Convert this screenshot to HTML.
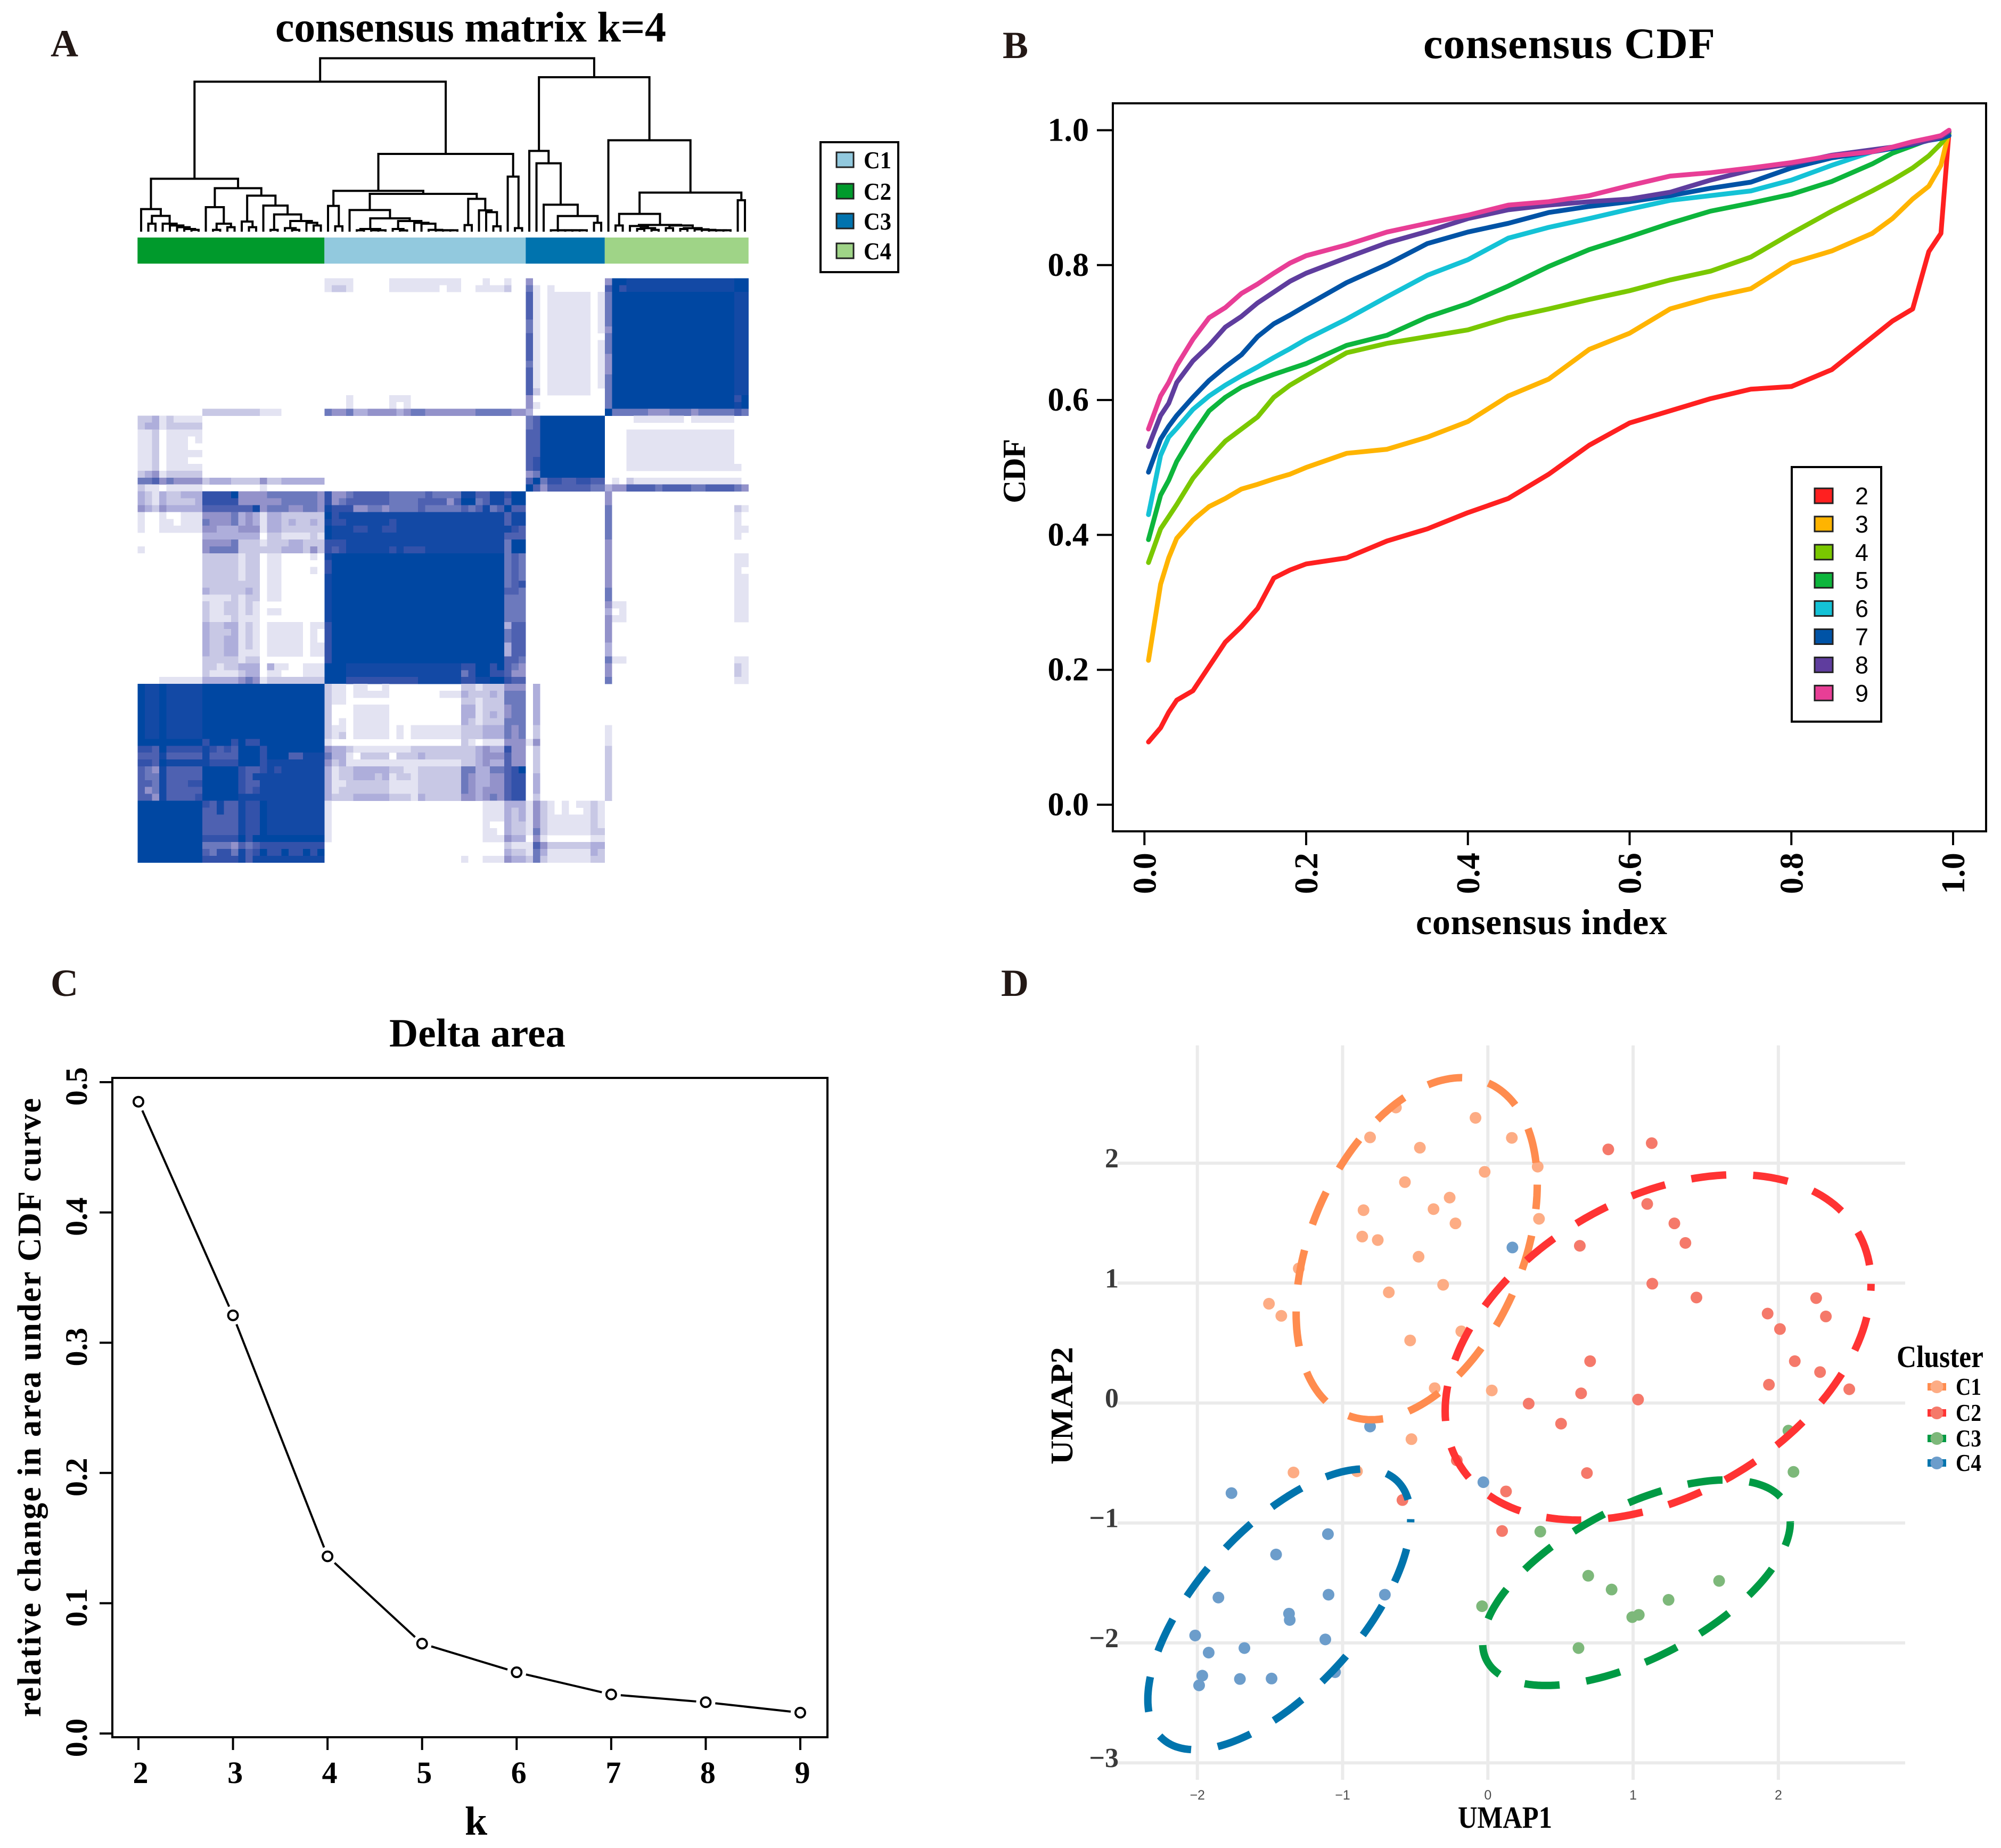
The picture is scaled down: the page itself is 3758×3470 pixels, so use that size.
<!DOCTYPE html>
<html lang="en">
<head>
<meta charset="utf-8">
<title>Consensus clustering figure</title>
<style>
html,body{margin:0;padding:0;background:#fff;}
svg{display:block;}
text{font-family:"Liberation Serif",serif;font-weight:bold;fill:#000;}
.sans{font-family:"Liberation Sans",sans-serif;font-weight:normal;}
.letter{font-size:72px;fill:#231815;}
</style>
</head>
<body>
<svg id="fig" xmlns="http://www.w3.org/2000/svg" width="3758" height="3470" viewBox="0 0 3758 3470">
  <rect x="0" y="0" width="3758" height="3470" fill="#fff"/>

  <text class="letter" x="95" y="106">A</text>
  <text class="letter" x="1883" y="109">B</text>
  <text class="letter" x="95" y="1870">C</text>
  <text class="letter" x="1880" y="1870">D</text>

  <g id="panelA">
    <text x="517" y="78" font-size="80" textLength="734">consensus matrix k=4</text>
    <g id="dendrogram" fill="none" stroke="#000" stroke-width="4"></g>
    <g id="annotation"></g>
    <g id="heatmap" shape-rendering="crispEdges"></g>
    <g id="legendA"></g>
  </g>

  <g id="panelB">
    <text x="2673" y="109" font-size="82" textLength="548">consensus CDF</text>
    <g id="cdfAxes"></g>
    <g id="cdfLines" fill="none" stroke-width="9" stroke-linejoin="round" stroke-linecap="round"></g>
    <rect x="2090" y="194" width="1640" height="1367" fill="none" stroke="#000" stroke-width="4"/>
    <text x="2659" y="1754" font-size="68" textLength="472">consensus index</text>
    <text transform="translate(1925 945) rotate(-90)" font-size="60" textLength="121">CDF</text>
    <g id="legendB"></g>
  </g>

  <g id="panelC">
    <text x="731" y="1965" font-size="75" textLength="331">Delta area</text>
    <g id="deltaAxes"></g>
    <g id="deltaMarks"></g>
    <rect x="211" y="2024" width="1343" height="1238" fill="none" stroke="#000" stroke-width="4"/>
    <text x="894" y="3445" font-size="76" text-anchor="middle">k</text>
    <text transform="translate(76 3224) rotate(-90)" font-size="62" textLength="1162">relative change in area under CDF curve</text>
  </g>

  <g id="panelD">
    <g id="umapGrid"></g>
    <g id="umapPoints"></g>
    <g id="umapEllipses" fill="none" stroke-width="14"></g>
    <text x="2738" y="3432" font-size="58" textLength="177" lengthAdjust="spacingAndGlyphs">UMAP1</text>
    <text transform="translate(2014 2750) rotate(-90)" font-size="59" textLength="221" lengthAdjust="spacingAndGlyphs">UMAP2</text>
    <text x="3562" y="2567" font-size="58" textLength="163" lengthAdjust="spacingAndGlyphs">Cluster</text>
    <g id="legendD"></g>
  </g>
</svg>

<script>
/* ---------- Panel A data ---------- */
const clusterNames = ["C1", "C2", "C3", "C4"];
const clusterColors = ["#92c9de", "#009a2c", "#0073ae", "#9fd487"];
const columnOrder = ["C2", "C1", "C3", "C4"];
const columnCounts = [26, 28, 11, 20];
const heatLevels = ["#fdfdfd", "#e3e3f2", "#c8c8e5", "#aeaedb", "#9392ca", "#6c79bd", "#4e61b1", "#3352aa", "#1349a5", "#0047a2"];
/* each row: level or level*count, left to right */
const heatRows = [
"0*26 1*4 0*5 1*10 0*3 1 0*2 1 0*2 4 0*10 4 9*2 8*15 9*2",
"0*26 1 2 2 1 0*5 1*7 0 1*2 0*2 1*4 2 0*2 5 1 0 1 0*7 6 9 7 8*15 9*2",
"0*54 6 1 0 1*6 0 1 5 9*17 8*2",
"0*54 6 1 0 1*6 0 1 5 9*17 8*2",
"0*54 6 1 0 1*6 0 1 5 9*17 8*2",
"0*54 6 1 0 1*6 0 1 5 9*17 8*2",
"0*54 5 1 0 1*6 0 1 5 9*17 8*2",
"0*54 5 1 0 1*6 0 1 4 9*17 8*2",
"0*54 6 1 0 1*6 0 0 5 9*17 8*2",
"0*54 6 1 0 1*6 0 1 5 9*17 8*2",
"0*54 6 1 0 1*6 0 1 5 9*17 8*2",
"0*54 6 1 0 1*6 0 1 4 9*17 8*2",
"0*54 5 1 0 1*6 0 1 4 9*17 8*2",
"0*54 6 1 0 1*6 0 1 4 9*17 8*2",
"0*54 6 1 0 1*6 0 1 5 9*17 8*2",
"0*54 6 1 0 1*6 0 1 5 9*17 8*2",
"0*54 6 2 0 1*6 0 0 5 9*17 8*2",
"0*29 1 0*5 1*3 0*16 4 0*10 5 9*17 7 9",
"0*29 1 0*5 1 0 1 0*16 4 1 0*9 5 9*17 8 9",
"0*9 2*8 1*3 0*6 5 4 4 5 3 3 4*4 3 4 5 5 4*7 5*5 4*2 3 0*10 9 5*5 4*3 5*3 4 5*5 6 5",
"2*2 3 1 2 1*4 0*45 5 6 9*9 0*4 1*7 0 1*6 0*2",
"2 3 3 1 2*5 0*45 5 6 9*9 0*20",
"1 1 2 0 1*5 0*45 6 6 9*9 0*3 1*15 0*2",
"1 1 2 0 1*3 0 1 0*45 6 6 9*9 0*3 1*15 0*2",
"1 1 2 0 1*3 0 0 0*45 6 6 9*9 0*3 1*15 0*2",
"1 1 2 0 1*5 0*45 6 6 9*9 0*3 1*15 0*2",
"1 1 2 0 1*3 0 0 0*45 6 7 9*9 0*3 1*15 0*2",
"1 1 2 0 1*5 0*45 6 7 9*9 0*3 1*16 0",
"2 3 4 1 2*5 0*45 4 5 9*9 0*20",
"5 5 6 4 5 4*4 2 3*3 2*4 4 2*2 3*6 0*28 6 9 5 7 7 6 6 7 7 6 6 0 1 0 2 1*15 0",
"2 1 1 0 1*5 0*8 1 0*36 9 6 4 6*6 5 5 3 4 4 6*4 5 6*4 5 5 6*4 5 4",
"3 2 1 3 2 2 3*3 7*4 9 4*4 5*7 4 7 4 4 5 6*5 5*5 6 5*4 8 8 6 6 8 8 7 9 9 0*11 4 0*19",
"3 2 1 3 2*4 3 7*5 4*6 5*5 4 7 4 5 6*6 5*4 6*3 6 4 6 9 9 5 6 8 8 6 9 9 0*11 4 0*19",
"4 3 2 4 3*5 6*7 8 4 5*3 4*2 5*2 4 8 7 7 7 4 4 5 5 4 5*4 6 5*5 6 5 6 8 5 6 9 6 6 0*11 5 0*17 2 1",
"1 0 0 1 0 0 1*3 4*4 5 3 4 3 1 3 3 2*6 9 7 8*23 6 8 8 0*11 5 0*17 1 0",
"1 0 0 1 1 0 1*3 5 4*3 5 3 4 3 1 3 3 2 3 2 2 3 2 8 7 7 8*6 7 8*15 6 8 8 0*11 5 0*17 1 0",
"1 0 0 1*6 4 4 3*3 4*3 1 3 3 2*6 9 8*3 7 7 8 8 7 7 8*16 7 6 0*11 5 0*17 1 1",
"0*9 3*8 0 2 2 1*4 2 1 9 8*24 6*3 0*11 5 0*17 1 0",
"0*9 4*4 5 2*3 1 2*3 3 3 2*3 7*3 8*22 5 9 9 0*11 4 0*19",
"1 0*8 4 5*4 2*6 3*3 2 4 2 7 6 7 8*6 7 8 7*3 8*11 5 9 9 0*11 4 0*19",
"0*9 2*5 1 2 2 0 1 1 0*4 1 0 8 9*24 5 6 5 0*11 4 0*17 1 1",
"0*9 2*5 1 2 2 0 1 1 0*6 7 9*24 5 6 5 0*11 4 0*17 1 1",
"0*9 2*5 1 2 2 0 1 1 0*4 1 0 7 9*24 5 6 5 0*11 4 0*17 1 0",
"0*9 2*5 1 2 2 0 1 1 0*6 8 9*24 5 6 5 0*11 4 0*17 1 1",
"0*9 2*5 2 2 2 0 1 1 0*6 8 9*24 5 6 7 0*11 4 0*17 1 1",
"0*9 3 2*5 3 2 0 1 1 0*6 8 9*24 6 6 5 0*11 5 0*17 1 1",
"0*9 1*4 2 1 2 2 0 1 1 0*6 8 9*24 5 5 5 0*11 5 0*17 1 1",
"0*9 2 1 1 2 2 1 2 1 0*9 8 9*24 5 5 5 0*11 4 1 1 0*15 1 1",
"0*9 2 1 1 2 2 1 2 1 0 1 1 0*6 8 9*24 5 5 5 0*11 3 0 1 0*15 1 1",
"0*9 2 1*3 2 1*3 0*9 8 9*24 5 5 5 0*11 4 1 1 0*15 1 1",
"0*9 3 2 2 3 3 1 2 1 0 1*5 0 1 1 7 9*24 3 6 6 0*11 4 0*19",
"0*9 3 2*3 3 1 2 1 0 1*5 0 1 0 7 9*24 5 6 6 0*11 4 0*19",
"0*9 3 2 2 3 3 1 2 1 0 1*5 0 1 0 7 9*24 5 6 6 0*11 4 0*19",
"0*9 3 2 2 3 3 1 2 1 0 1*5 0 1 1 7 9*24 3 6 6 0*11 3 0*19",
"0*9 3 2 2 3 3 1 1 1 0 1*5 0 1 1 7 9*24 3 6 6 0*11 3 0*19",
"0*9 2*5 1 2 2 0*9 7 9*24 6 6 5 0*11 5 1 1 0*15 1 1",
"0*9 2 2 1 2 2 3*3 0 3 1 1 0 0 1*3 9*3 8*16 7 7 9 9 7 9 6 5 4 0*11 4 0*17 2 1",
"0*9 2 1*4 2 3 3 0 1 1 0*3 1*3 9*3 8*16 5 7 9 9 7 7 6 4 4 0*11 4 0*17 2 1",
"0*3 1*6 3*5 4 5 4 1 2*8 9*3 7*10 8*6 7 7 8 8 9 9 7 6 6 0*11 5 0*17 1 1",
"9 8 8 9 8*5 9*17 2 1 1 0 1 1 0 0 1 0*10 2 2 1 2*3 4*3 0 3 0*29",
"9 8 8 9 8*5 9*17 2 1 1 0 1*5 0*7 1*3 3 2 2 2 3 2 5*3 0 3 0*29",
"9 8 8 9 8*5 9*17 2 1 1 0*16 2 2 1 2*3 5*3 0 3 0*29",
"9 8 8 9 8*5 9*17 2 0*3 1*5 0*10 3 3 1 2*3 4 5 5 0 3 0*29",
"9 8 8 9 8*5 9*17 2 0*3 1*5 0*10 3 3 1 2 3 2 4 5 5 0 3 0*29",
"9 8 8 9 8*5 9*17 2 0 1 0 1*5 0*10 3 2 1 2*3 5*3 0 3 0*29",
"9 8 8 9 8*5 9*17 2 1 1 0 1*5 0 1 0 1*7 2*3 3*3 5 4 5 0 2 0*9 1 0*19",
"9 8 8 9 8*5 9*17 2 1 2 0 1*5 0 1 0 1*7 2*3 3*3 5 4 5 0 2 0*9 1 0*19",
"9*9 7 9*3 7 9 7 7 9*9 1 0*18 2 1 0 1*3 4*3 1 4 0*9 1 0*19",
"7 7 6 9 7*5 8 7 6 7 6 9*3 7 9*8 4 3 3 2 1*8 2*9 3 4 3 3 7 4 4 0 2 0*9 2 0*19",
"6 6 6 8 6*5 8 6*4 9*3 7 9*3 6 6 8*3 5 3 3 1 0 2*4 0 2*3 3 2*7 3 4*3 6 4 4 0 2 0*9 2 0*19",
"7 7 6 9 8*5 8 7*4 9*3 7 8*8 4 2 3 1*16 2 2 3 4 3 3 6 4 4 0 2 0*9 2 0*19",
"6 5 4 8 6*5 9*5 7 6 6 7 8 7 8*6 3 1 2 2 3*5 2 2 1 1 2*6 5 5 3 3 5 5 6 7 9 0 2 0*9 2 0*19",
"6 5 5 8 6*5 9*5 7 6 8 8 8*8 3 1 2 2 3*3 2 3 1 2 2 1 2*6 5 4 3 3 4 4 6 7 7 0 3 0*9 2 0*19",
"6 6 5 8 6*3 7 7 9*5 7 6 6 8*9 3 1 1 2*6 1*4 2*6 5 4 3 3 4 4 6 7 7 0 3 0*9 2 0*19",
"6 4 5 8 6*5 9*5 7 6 7 8*9 3 1 2*7 1*4 2*6 5 4 3 4*3 6 7 7 0 3 0*9 2 0*19",
"6 6 4 8 6*4 7 9*5 8 8 8 8*9 3 2 2 2 3*5 2*3 1 3 2*5 4 4 3 4 5 4 6 7 7 0 2 0*9 2 0*19",
"9*9 7 6 8 6 6 8 7 7 9 8*8 1 0*21 1*3 3*3 1 4 2 1 0 1 0 1 1 2 1 0*20",
"9*9 6 6 8 6 6 8 7 7 9 8*8 1 0*21 1*3 3 2 3 1 4 2 1 0 1 0 0 1 2 1 0*20",
"9*9 6*5 8 7 7 9 8*8 1 0*21 1*3 3 2 3 1 4 2 1*6 2 1 0*20",
"9*9 6*5 8 7 7 9 8*8 1 0*21 1 0 0 3 2 2 1 4 2 1*6 2 1 0*20",
"9*9 6*5 8 7 7 9 8*8 1 0*21 1 1 0 3 2 2 1 5 2 1*6 2 2 0*20",
"9*9 7*5 9 7 9 9 9*8 1 0*21 1*3 4 3 3 0 4 1 0*6 1 1 0*20",
"9*9 5*4 4 6 5 6 7*9 0*25 2 1 1 1 6 4 2*6 3 3 0*20",
"9*9 6 5 7 7 5 8 6 7 9 7 7 9 7 7 9 7 9 0*25 3 2 2 1 5 3 1*6 3 2 0*20",
"9*9 7*5 8 6 8 8 8*8 0*19 1 0*2 1*3 4 3 3 2 5 2 1*6 2 2 0*20"
];
/* dendrogram: [merge height, left child, right child]; 0 is a leaf */
const dendrogramTree = [977,
  [845,
    [298,
      [127, 0, [89, [45, 0, 0], [45, 0, [35, 0, [25, 0, [15, 0, [10, 0, 0]]]]]]],
      [245,
        [138, 0, [45, [10, 0, 0], [25, 0, 0]]],
        [203,
          [57, 0, [25, 0, 0]],
          [147, 0, [97, [10, 0, 0], [60, [20, 0, [10, 0, 0]], [50, 0, [35, 0, 0]]]]]]]],
    [438,
      [230,
        [145, 0, [30, 0, 0]],
        [213,
          [122, 0, [75,
            [15, [8, 0, 0], [8, [8, 0, 0], 0]],
            [60, [15, 0, [7, 0, 0]], [50, 0, [45, 0, [10, 0, [8, 0, [8, 0, [8, 0, 0]]]]]]]]],
          [185, [37, 0, 0], [120, 0, [110, 0, [30, 0, 0]]]]]],
      [310, 0, [20, 0, 0]]]],
  [870,
    [455, 0, [385, 0, [152, 0, [88, [8, 0, [8, 0, [8, 0, [8, 0, [8, 0, 0]]]]], [50, 0, 0]]]]],
    [515, 0, [220,
      [100,
        [35, 0, 0],
        [38,
          [32, 0, [20, [15, 0, 0], [10, 0, 0]]],
          [35, [20, 0, 0], [20, [15, 0, 0], [13, 0, [10, 0, [8, 0, [8, 0, [8, 0, 0]]]]]]]]],
      [177, 0, 0]]]]
];

/* ---------- Panel B data ---------- */
const cdfSeriesNames = ["2", "3", "4", "5", "6", "7", "8", "9"];
const cdfColors = ["#ff2020", "#ffb400", "#7ac800", "#0db53c", "#14c2d6", "#0053a6", "#5f3d9e", "#e83e96"];
const cdfTicks = ["0.0", "0.2", "0.4", "0.6", "0.8", "1.0"];
const consensusIndex = [0.005, 0.02, 0.03, 0.04, 0.06, 0.08, 0.1, 0.12, 0.14, 0.16, 0.18, 0.2, 0.25, 0.3, 0.35, 0.4, 0.45, 0.5, 0.55, 0.6, 0.65, 0.7, 0.75, 0.8, 0.85, 0.9, 0.925, 0.95, 0.97, 0.985, 0.995];
const cdfK2 = [0.093, 0.114, 0.137, 0.155, 0.169, 0.205, 0.241, 0.264, 0.291, 0.336, 0.348, 0.357, 0.366, 0.391, 0.409, 0.433, 0.454, 0.490, 0.533, 0.566, 0.584, 0.602, 0.616, 0.620, 0.645, 0.693, 0.717, 0.735, 0.820, 0.847, 0.998];
const cdfK3 = [0.214, 0.327, 0.366, 0.395, 0.422, 0.442, 0.454, 0.468, 0.475, 0.483, 0.490, 0.500, 0.521, 0.527, 0.545, 0.568, 0.606, 0.631, 0.675, 0.699, 0.735, 0.752, 0.765, 0.803, 0.821, 0.847, 0.869, 0.898, 0.917, 0.948, 0.998];
const cdfK4 = [0.359, 0.409, 0.427, 0.445, 0.484, 0.513, 0.539, 0.557, 0.575, 0.604, 0.622, 0.636, 0.670, 0.684, 0.694, 0.704, 0.722, 0.735, 0.749, 0.762, 0.778, 0.791, 0.812, 0.847, 0.880, 0.910, 0.926, 0.944, 0.962, 0.980, 0.995];
const cdfK5 = [0.393, 0.459, 0.481, 0.509, 0.549, 0.584, 0.604, 0.619, 0.629, 0.638, 0.646, 0.654, 0.681, 0.696, 0.723, 0.743, 0.769, 0.798, 0.823, 0.842, 0.862, 0.880, 0.892, 0.905, 0.924, 0.950, 0.966, 0.977, 0.986, 0.992, 0.998];
const cdfK6 = [0.430, 0.518, 0.545, 0.558, 0.586, 0.606, 0.622, 0.636, 0.649, 0.663, 0.676, 0.690, 0.720, 0.753, 0.785, 0.808, 0.840, 0.856, 0.869, 0.883, 0.896, 0.903, 0.910, 0.926, 0.948, 0.968, 0.973, 0.979, 0.985, 0.988, 0.992];
const cdfK7 = [0.493, 0.542, 0.561, 0.577, 0.604, 0.629, 0.649, 0.667, 0.694, 0.713, 0.726, 0.740, 0.774, 0.801, 0.832, 0.849, 0.862, 0.878, 0.887, 0.894, 0.903, 0.914, 0.923, 0.944, 0.959, 0.968, 0.973, 0.979, 0.985, 0.988, 0.992];
const cdfK8 = [0.531, 0.577, 0.595, 0.626, 0.658, 0.681, 0.708, 0.724, 0.744, 0.760, 0.776, 0.788, 0.811, 0.833, 0.850, 0.869, 0.882, 0.889, 0.894, 0.898, 0.908, 0.926, 0.941, 0.950, 0.963, 0.971, 0.975, 0.980, 0.985, 0.990, 0.998];
const cdfK9 = [0.557, 0.606, 0.626, 0.651, 0.690, 0.722, 0.737, 0.758, 0.772, 0.788, 0.803, 0.814, 0.830, 0.849, 0.862, 0.874, 0.889, 0.894, 0.903, 0.918, 0.932, 0.937, 0.944, 0.952, 0.962, 0.968, 0.975, 0.983, 0.988, 0.992, 1.0];

/* ---------- Panel C data ---------- */
const deltaK = [2, 3, 4, 5, 6, 7, 8, 9];
const deltaValues = [0.485, 0.321, 0.136, 0.069, 0.047, 0.030, 0.024, 0.016];
const deltaYTicks = ["0.0", "0.1", "0.2", "0.3", "0.4", "0.5"];

/* ---------- Panel D data ---------- */
const umapXTicks = [-2, -1, 0, 1, 2];
const umapYTicks = [-3, -2, -1, 0, 1, 2];
const umapClusters = ["C1", "C2", "C3", "C4"];
const umapLineColors = ["#ff8c4f", "#ff3333", "#009a44", "#0074ad"];
const umapPointColors = ["#fdac84", "#f5796a", "#7db87a", "#6c9dcb"];
const umap1C1 = [-0.633, -0.085, -0.811, 0.165, -0.468, 0.343, -0.022, -0.571, -0.263, -0.374, -0.856, -0.223, 0.352, -0.865, -0.758, -0.477, -1.302, -0.308, -0.682, -1.507, -1.422, -0.183, -0.535, -0.366, 0.027, -0.526, -1.338, -0.901];
const umap2C1 = [2.464, 2.378, 2.215, 2.211, 2.129, 1.971, 1.928, 1.842, 1.713, 1.617, 1.608, 1.498, 1.536, 1.388, 1.359, 1.220, 1.122, 0.986, 0.923, 0.828, 0.727, 0.598, 0.522, 0.124, 0.105, -0.301, -0.579, -0.569];
const umap1C2 = [1.128, 0.829, 1.097, 1.284, 1.360, 0.633, 1.132, 1.436, 2.260, 1.926, 2.327, 2.011, 0.704, 2.113, 2.287, 1.935, 2.488, 0.642, 1.034, 0.281, 0.504, -0.214, 0.682, 0.125, -0.588, 0.098];
const umap2C2 = [2.167, 2.115, 1.660, 1.498, 1.335, 1.311, 0.995, 0.880, 0.875, 0.746, 0.722, 0.617, 0.349, 0.349, 0.258, 0.153, 0.115, 0.081, 0.029, -0.005, -0.172, -0.478, -0.584, -0.737, -0.809, -1.067];
const umap1C3 = [2.069, 2.104, 0.361, 0.691, 0.852, 1.592, 1.244, 1.039, 0.994, -0.040, 0.624];
const umap2C3 = [-0.230, -0.574, -1.072, -1.440, -1.555, -1.483, -1.641, -1.766, -1.785, -1.694, -2.043];
const umap1C4 = [0.169, -0.811, -0.031, -1.765, -1.101, -1.458, -1.855, -1.097, -0.709, -1.369, -1.364, -2.015, -1.922, -1.119, -1.676, -1.966, -1.988, -1.707, -1.489, -1.052];
const umap2C4 = [1.297, -0.196, -0.660, -0.751, -1.093, -1.263, -1.622, -1.598, -1.598, -1.756, -1.809, -1.938, -2.081, -1.971, -2.043, -2.273, -2.354, -2.301, -2.297, -2.244];
const ellipseCenterX = [-0.49, 1.172, 1.023, -1.436];
const ellipseCenterY = [1.287, 0.464, -1.498, -1.72];
const ellipseSpreadX = [0.83, 1.466, 1.059, 0.905];
const ellipseSpreadY = [1.426, 1.44, 0.857, 1.17];
const ellipsePhaseDeg = [68, 68.4, 54, 50];
const ellipseDashOffset = [20, 53, 21, 60];

/* ---------- helpers ---------- */
const NS = "http://www.w3.org/2000/svg";
function make(tag, attrs, parent) {
  const e = document.createElementNS(NS, tag);
  for (const k in attrs) e.setAttribute(k, attrs[k]);
  parent.appendChild(e);
  return e;
}
const byId = function (id) { return document.getElementById(id); };

/* ---------- Panel A ---------- */
const heatLeft = 258.3, heatTop = 522.4, cellW = 13.5, cellH = 12.91;
const heatX = function (col) { return heatLeft + col * cellW; };
const heatY = function (row) { return heatTop + row * cellH; };

heatRows.forEach(function (rowText, r) {
  let col = 0;
  rowText.trim().split(/\s+/).forEach(function (token) {
    const parts = token.split("*");
    const level = Number(parts[0]);
    const count = parts.length > 1 ? Number(parts[1]) : 1;
    for (let i = 0; i < count; i++, col++) {
      if (level === 0) continue;
      const cell = make("rect", {x: heatX(col).toFixed(2), y: heatY(r).toFixed(2), width: cellW + 0.4, height: cellH + 0.4, fill: heatLevels[level]}, byId("heatmap"));
      
      
    }
  });
});

let annotationCol = 0;
columnOrder.forEach(function (name, i) {
  const seg = make("rect", {x: heatX(annotationCol), y: 446, width: columnCounts[i] * cellW, height: 49, fill: clusterColors[clusterNames.indexOf(name)]}, byId("annotation"));
  
  
  annotationCol += columnCounts[i];
});

let leafCursor = 0;
const dendroY = function (h) { return 435 - h / 3; };
function layoutTree(node) {
  if (node === 0) {
    const x = heatX(leafCursor + 0.5);
    leafCursor++;
    return {x: x, h: 0};
  }
  const left = layoutTree(node[1]);
  const right = layoutTree(node[2]);
  const y = dendroY(node[0]);
  const merge = make("path", {d: "M" + left.x + " " + dendroY(left.h) + "V" + y + "H" + right.x + "V" + dendroY(right.h)}, byId("dendrogram"));
  
  
  return {x: (left.x + right.x) / 2, h: node[0]};
}
layoutTree(dendrogramTree);

const legendABox = make("rect", {x: 1541, y: 267, width: 146, height: 244, fill: "#fff", stroke: "#000", "stroke-width": 4}, byId("legendA"));


const legendACenters = [300, 359, 415, 471];
clusterNames.forEach(function (name, i) {
  const swatch = make("rect", {x: 1571, y: legendACenters[i] - 14, width: 32, height: 28, fill: clusterColors[i], stroke: "#222", "stroke-width": 3}, byId("legendA"));
  
  
  const label = make("text", {x: 1622, y: legendACenters[i] + 16, "font-size": 46, textLength: 52, lengthAdjust: "spacingAndGlyphs"}, byId("legendA"));
  label.textContent = name;
  
  
});

/* ---------- Panel B ---------- */
const cdfX = function (v) { return 2149.3 + v * (3668 - 2149.3); };
const cdfY = function (v) { return 1511 - v * (1511 - 244.5); };
cdfTicks.forEach(function (t) {
  const v = Number(t);
  const xTick = make("line", {x1: cdfX(v), x2: cdfX(v), y1: 1561, y2: 1587, stroke: "#000", "stroke-width": 4}, byId("cdfAxes"));
  
  
  const xLabel = make("text", {transform: "translate(" + (cdfX(v) + 21) + " 1640) rotate(-90)", "font-size": 62, "text-anchor": "middle"}, byId("cdfAxes"));
  xLabel.textContent = t;
  
  
  const yTick = make("line", {x1: 2060, x2: 2090, y1: cdfY(v), y2: cdfY(v), stroke: "#000", "stroke-width": 4}, byId("cdfAxes"));
  
  
  const yLabel = make("text", {x: 2045, y: cdfY(v) + 20, "font-size": 62, "text-anchor": "end"}, byId("cdfAxes"));
  yLabel.textContent = t;
  
  
});
[cdfK2, cdfK3, cdfK4, cdfK5, cdfK6, cdfK7, cdfK8, cdfK9].forEach(function (series, s) {
  const pts = series.map(function (v, i) { return cdfX(consensusIndex[i]).toFixed(1) + "," + cdfY(v).toFixed(1); }).join(" ");
  const line = make("polyline", {points: pts, stroke: cdfColors[s]}, byId("cdfLines"));
  
  
});
const legendBBox = make("rect", {x: 3365, y: 877, width: 168, height: 478, fill: "#fff", stroke: "#000", "stroke-width": 4}, byId("legendB"));


cdfSeriesNames.forEach(function (name, i) {
  const cy = 931 + i * 52.9;
  const swatch = make("rect", {x: 3408, y: cy - 14, width: 34, height: 28, fill: cdfColors[i], stroke: "#222", "stroke-width": 3}, byId("legendB"));
  
  
  const label = make("text", {x: 3484, y: cy + 16, "font-size": 45, "class": "sans"}, byId("legendB"));
  label.textContent = name;
  
  
});

/* ---------- Panel C ---------- */
const deltaX = function (k) { return 260 + (k - 2) * (1503 - 260) / 7; };
const deltaY = function (v) { return 3255 - v * (3255 - 2032) / 0.5; };
deltaK.forEach(function (k) {
  const tick = make("line", {x1: deltaX(k), x2: deltaX(k), y1: 3262, y2: 3286, stroke: "#000", "stroke-width": 4}, byId("deltaAxes"));
  
  
  const label = make("text", {x: deltaX(k) + 4, y: 3348, "font-size": 58, "text-anchor": "middle"}, byId("deltaAxes"));
  label.textContent = String(k);
  
  
});
deltaYTicks.forEach(function (t) {
  const v = Number(t);
  const tick = make("line", {x1: 187, x2: 211, y1: deltaY(v), y2: deltaY(v), stroke: "#000", "stroke-width": 4}, byId("deltaAxes"));
  
  
  const label = make("text", {transform: "translate(163 " + (deltaY(v) + 8) + ") rotate(-90)", "font-size": 58, "text-anchor": "middle"}, byId("deltaAxes"));
  label.textContent = t;
  
  
});
deltaValues.forEach(function (v, i) {
  if (i < deltaValues.length - 1) {
    const x1 = deltaX(deltaK[i]), y1 = deltaY(v), x2 = deltaX(deltaK[i + 1]), y2 = deltaY(deltaValues[i + 1]);
    const len = Math.hypot(x2 - x1, y2 - y1), gap = 18;
    const ux = (x2 - x1) / len, uy = (y2 - y1) / len;
    const seg = make("line", {x1: x1 + ux * gap, y1: y1 + uy * gap, x2: x2 - ux * gap, y2: y2 - uy * gap, stroke: "#000", "stroke-width": 4}, byId("deltaMarks"));
    
    
  }
  const point = make("circle", {cx: deltaX(deltaK[i]), cy: deltaY(v), r: 9, fill: "#fff", stroke: "#000", "stroke-width": 4}, byId("deltaMarks"));
  
  
});

/* ---------- Panel D ---------- */
const umapX = function (v) { return 2794.3 + v * 272.8; };
const umapY = function (v) { return 2634.5 - v * 225.2; };
umapXTicks.forEach(function (v) {
  const grid = make("line", {x1: umapX(v), x2: umapX(v), y1: 1963, y2: 3342, stroke: "#ebebeb", "stroke-width": 6}, byId("umapGrid"));
  
  
  const label = make("text", {x: umapX(v), y: 3379, "font-size": 25, "text-anchor": "middle", "class": "sans", style: "fill:#4d4d4d"}, byId("umapGrid"));
  label.textContent = String(v).replace("-", "\u2212");
  
  
});
umapYTicks.forEach(function (v) {
  const grid = make("line", {x1: 2099, x2: 3578, y1: umapY(v), y2: umapY(v), stroke: "#ebebeb", "stroke-width": 6}, byId("umapGrid"));
  
  
  const label = make("text", {x: 2101, y: umapY(v) + 8, "font-size": 52, "text-anchor": "end", style: "fill:#3a3a3a"}, byId("umapGrid"));
  label.textContent = String(v).replace("-", "\u2212");
  
  
});
[[umap1C1, umap2C1], [umap1C2, umap2C2], [umap1C3, umap2C3], [umap1C4, umap2C4]].forEach(function (pair, c) {
  pair[0].forEach(function (xv, i) {
    const dot = make("ellipse", {cx: umapX(xv), cy: umapY(pair[1][i]), rx: 11, ry: 11, fill: umapPointColors[c]}, byId("umapPoints"));
    
    
  });
});
umapClusters.forEach(function (name, c) {
  const phase = ellipsePhaseDeg[c] * Math.PI / 180;
  const samples = [];
  for (let i = 0; i <= 180; i++) {
    const t = i / 180 * 2 * Math.PI;
    const xv = ellipseCenterX[c] + ellipseSpreadX[c] * Math.cos(t);
    const yv = ellipseCenterY[c] + ellipseSpreadY[c] * Math.cos(t + phase);
    samples.push(umapX(xv).toFixed(1) + "," + umapY(yv).toFixed(1));
  }
  const ring = make("polyline", {points: samples.join(" "), stroke: umapLineColors[c], "stroke-dasharray": "66 50.5", "stroke-dashoffset": ellipseDashOffset[c]}, byId("umapEllipses"));
  
  
  const cy = [2604, 2653, 2701, 2747][c];
  const key = make("line", {x1: 3620, x2: 3655, y1: cy, y2: cy, stroke: umapLineColors[c], "stroke-width": 14}, byId("legendD"));
  
  
  const keyDot = make("circle", {cx: 3637.5, cy: cy, r: 12, fill: umapPointColors[c]}, byId("legendD"));
  
  
  const label = make("text", {x: 3673, y: cy + 15, "font-size": 46, textLength: 48, lengthAdjust: "spacingAndGlyphs"}, byId("legendD"));
  label.textContent = name;
  
  
});
</script>
</body>
</html>
